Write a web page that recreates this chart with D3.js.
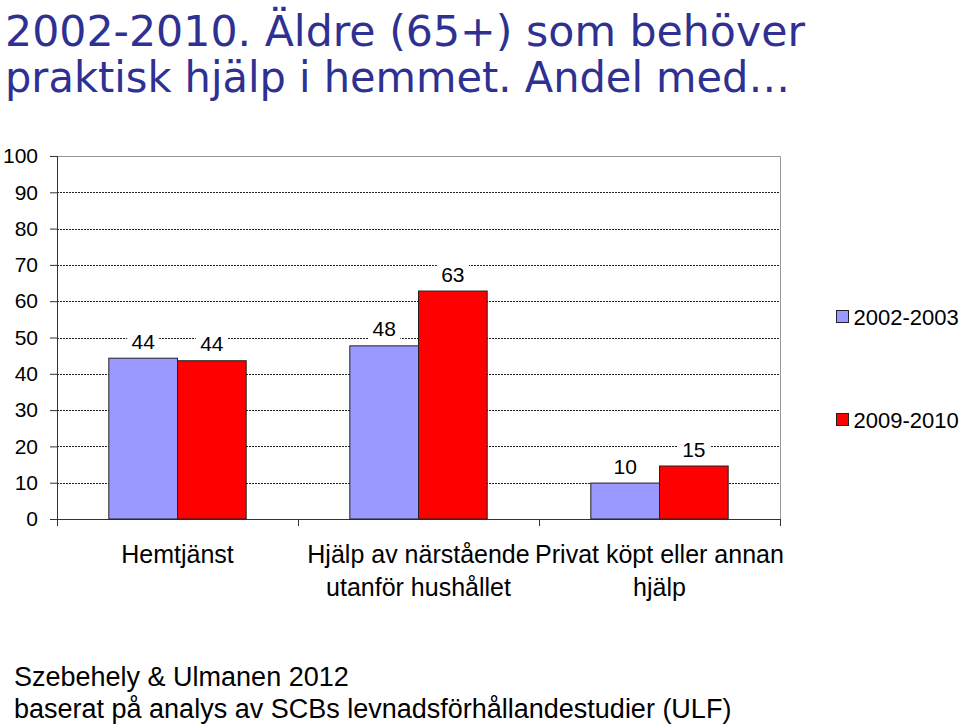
<!DOCTYPE html>
<html>
<head>
<meta charset="utf-8">
<script src="https://cdn.jsdelivr.net/npm/d3@7"></script>
<style>
  body { margin: 0; background: #fff; }
  svg { display: block; }
</style>
</head>
<body>
<div id="chart"></div>
<script>
const width = 960;
const height = 725;

const titleLines = ["2002-2010. Äldre (65+) som behöver", "praktisk hjälp i hemmet. Andel med…"];
const categories = [["Hemtjänst"], ["Hjälp av närstående", "utanför hushållet"], ["Privat köpt eller annan", "hjälp"]];
const seriesNames = ["2002-2003", "2009-2010"];
const seriesColors = ["#9999ff", "#ff0000"];
const values2002 = [44.3, 47.7, 9.9];
const values2009 = [43.6, 62.8, 14.6];
const yTicks = [0, 10, 20, 30, 40, 50, 60, 70, 80, 90, 100];
const footer = ["Szebehely & Ulmanen 2012", "baserat på analys av SCBs levnadsförhållandestudier (ULF)"];

const plot = { left: 57, right: 780, top: 156, bottom: 519 };

const svg = d3.select("#chart")
    .append("svg")
    .attr("width", width)
    .attr("height", height);

// title
svg.selectAll("text.title")
    .data(titleLines)
    .enter()
    .append("text")
    .attr("class", "title")
    .attr("x", 5)
    .attr("y", (d, i) => 46 + i * 46)
    .attr("textLength", (d, i) => i === 0 ? 800 : 785)
    .attr("lengthAdjust", "spacingAndGlyphs")
    .attr("font-family", "DejaVu Sans")
    .attr("font-size", 43)
    .attr("fill", "#2e3192")
    .text(d => d);

const x0 = d3.scaleBand()
    .domain(d3.range(categories.length))
    .range([plot.left, plot.right])
    .paddingInner(0.43)
    .paddingOuter(0.215);

const x1 = d3.scaleBand()
    .domain(d3.range(seriesNames.length))
    .range([0, x0.bandwidth()]);

const y = d3.scaleLinear()
    .domain([0, 100])
    .range([plot.bottom, plot.top]);

// grid
svg.selectAll("line.grid")
    .data(yTicks.filter(d => d > 0 && d < 100))
    .enter()
    .append("line")
    .attr("x1", plot.left)
    .attr("x2", plot.right)
    .attr("y1", d => Math.round(y(d)) + 0.5)
    .attr("y2", d => Math.round(y(d)) + 0.5)
    .attr("stroke", "#222")
    .attr("stroke-width", 1)
    .attr("shape-rendering", "crispEdges")
    .attr("stroke-dasharray", "2,1");

// plot border top/right
svg.append("path")
    .attr("d", `M${plot.left},${plot.top + 0.5}H${plot.right + 0.5}V${plot.bottom}`)
    .attr("fill", "none")
    .attr("stroke", "#999")
    .attr("stroke-width", 1);

// y axis
const yAxis = d3.axisLeft(y)
    .tickValues(yTicks)
    .tickSize(7)
    .tickPadding(12)
    .tickFormat(d3.format("d"));

const gy = svg.append("g")
    .attr("transform", `translate(${plot.left},0)`)
    .call(yAxis);
gy.select(".domain").attr("stroke", "#333").attr("d", `M0.5,${plot.top}V${plot.bottom + 7}`);
gy.selectAll(".tick line").attr("stroke", "#333");
gy.selectAll(".tick text")
    .attr("font-family", "Liberation Sans, Arial, sans-serif")
    .attr("font-size", 21)
    .attr("fill", "#000");

// x axis
const xAxisLine = svg.append("g");
xAxisLine.append("line")
    .attr("x1", plot.left - 7)
    .attr("x2", plot.right)
    .attr("y1", plot.bottom + 0.5)
    .attr("y2", plot.bottom + 0.5)
    .attr("stroke", "#333");
xAxisLine.selectAll("line.xt")
    .data(d3.range(categories.length))
    .enter()
    .append("line")
    .attr("x1", d => Math.round(x0(d) + x0.bandwidth() / 2 + x0.step() / 2) + 0.5)
    .attr("x2", d => Math.round(x0(d) + x0.bandwidth() / 2 + x0.step() / 2) + 0.5)
    .attr("y1", plot.bottom)
    .attr("y2", plot.bottom + 7)
    .attr("stroke", "#333");

// bars
const series = [values2002, values2009];
const bars = [];
series.forEach((vals, s) => vals.forEach((v, c) => bars.push({ s, c, v })));

svg.selectAll("rect.bar")
    .data(bars)
    .enter()
    .append("rect")
    .attr("x", d => x0(d.c) + x1(d.s))
    .attr("y", d => y(d.v))
    .attr("width", x1.bandwidth())
    .attr("height", d => y(0) - y(d.v))
    .attr("fill", d => seriesColors[d.s])
    .attr("stroke", "#222")
    .attr("stroke-width", 1);

// data labels with white background
const labels = svg.selectAll("g.lbl")
    .data(bars)
    .enter()
    .append("g")
    .attr("transform", d => `translate(${x0(d.c) + x1(d.s) + x1.bandwidth() / 2},${y(d.v) - 17})`);
labels.append("rect")
    .attr("x", -16)
    .attr("y", -11)
    .attr("width", 32)
    .attr("height", 22)
    .attr("fill", "#fff");
labels.append("text")
    .attr("text-anchor", "middle")
    .attr("dy", "0.36em")
    .attr("font-family", "Liberation Sans, Arial, sans-serif")
    .attr("font-size", 21)
    .attr("fill", "#000")
    .text(d => d3.format(".0f")(d.v));

// category labels
const cat = svg.selectAll("text.cat")
    .data(categories)
    .enter()
    .append("text")
    .attr("text-anchor", "middle")
    .attr("font-family", "Liberation Sans, Arial, sans-serif")
    .attr("font-size", 25)
    .attr("fill", "#000");
cat.selectAll("tspan")
    .data((d, i) => d.map(t => ({ t, i })))
    .enter()
    .append("tspan")
    .attr("x", d => x0(d.i) + x0.bandwidth() / 2)
    .attr("y", (d, j) => 563 + j * 33)
    .text(d => d.t);

// legend
const legend = svg.selectAll("g.leg")
    .data(seriesNames)
    .enter()
    .append("g")
    .attr("transform", (d, i) => `translate(836.5,${310.5 + i * 103})`);
legend.append("rect")
    .attr("width", 12)
    .attr("height", 12)
    .attr("fill", (d, i) => seriesColors[i])
    .attr("stroke", "#222");
legend.append("text")
    .attr("x", 17)
    .attr("y", 14)
    .attr("font-family", "Liberation Sans, Arial, sans-serif")
    .attr("font-size", 22)
    .attr("fill", "#000")
    .text(d => d);

// footer
svg.selectAll("text.foot")
    .data(footer)
    .enter()
    .append("text")
    .attr("x", 14)
    .attr("y", (d, i) => 686 + i * 32)
    .attr("font-family", "Liberation Sans, Arial, sans-serif")
    .attr("font-size", 27)
    .attr("fill", "#000")
    .text(d => d);
</script>
</body>
</html>
